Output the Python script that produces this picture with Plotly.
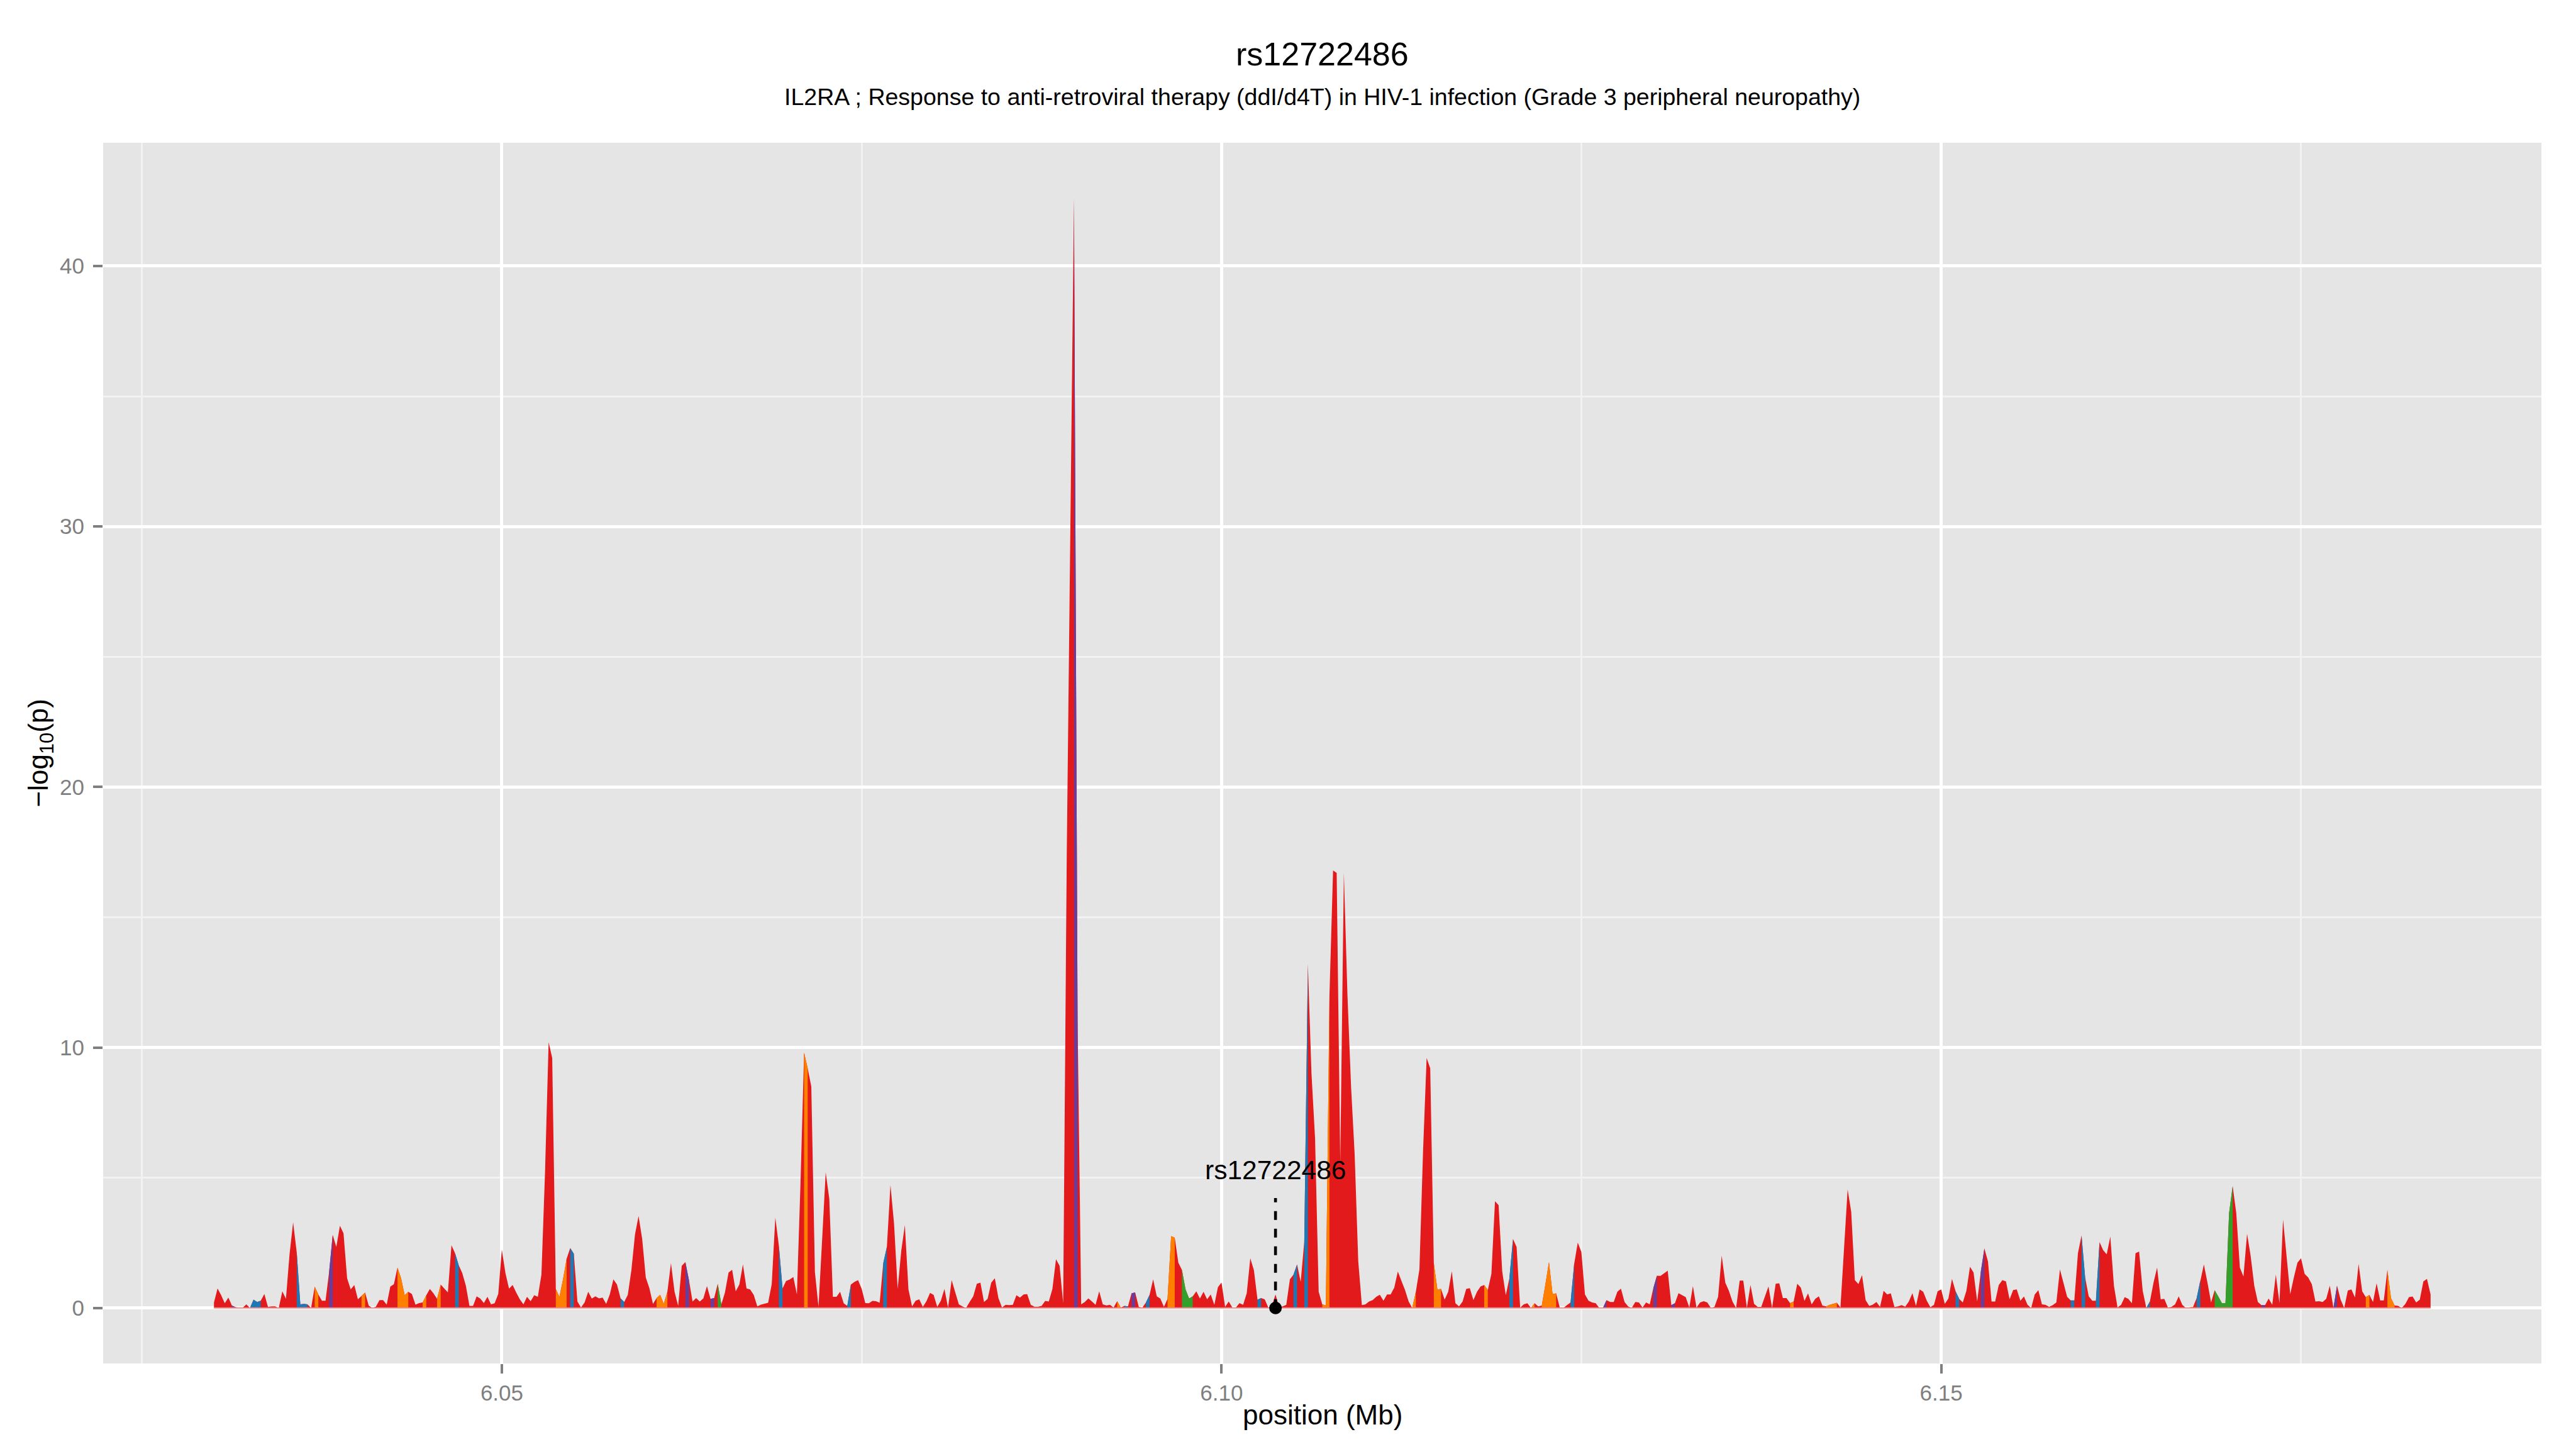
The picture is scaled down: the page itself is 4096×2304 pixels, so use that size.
import plotly.graph_objects as go

# ---------------- data ----------------
position_kb = [
    6030.00, 6030.25, 6030.50, 6030.75, 6031.00, 6031.25, 6031.50, 6031.75, 6032.00, 6032.25,
    6032.50, 6032.75, 6033.00, 6033.25, 6033.50, 6033.75, 6034.00, 6034.25, 6034.50, 6034.75,
    6035.00, 6035.25, 6035.50, 6035.75, 6036.00, 6036.25, 6036.50, 6036.75, 6037.00, 6037.25,
    6037.50, 6037.75, 6038.00, 6038.25, 6038.50, 6038.75, 6039.00, 6039.25, 6039.50, 6039.75,
    6040.00, 6040.25, 6040.50, 6040.75, 6041.00, 6041.25, 6041.50, 6041.75, 6042.00, 6042.25,
    6042.50, 6042.75, 6043.00, 6043.25, 6043.50, 6043.75, 6044.00, 6044.25, 6044.50, 6044.75,
    6045.00, 6045.25, 6045.50, 6045.75, 6046.00, 6046.25, 6046.50, 6046.75, 6047.00, 6047.25,
    6047.50, 6047.75, 6048.00, 6048.25, 6048.50, 6048.75, 6049.00, 6049.25, 6049.50, 6049.75,
    6050.00, 6050.25, 6050.50, 6050.75, 6051.00, 6051.25, 6051.50, 6051.75, 6052.00, 6052.25,
    6052.50, 6052.75, 6053.00, 6053.25, 6053.50, 6053.75, 6054.00, 6054.25, 6054.50, 6054.75,
    6055.00, 6055.25, 6055.50, 6055.75, 6056.00, 6056.25, 6056.50, 6056.75, 6057.00, 6057.25,
    6057.50, 6057.75, 6058.00, 6058.25, 6058.50, 6058.75, 6059.00, 6059.25, 6059.50, 6059.75,
    6060.00, 6060.25, 6060.50, 6060.75, 6061.00, 6061.25, 6061.50, 6061.75, 6062.00, 6062.25,
    6062.50, 6062.75, 6063.00, 6063.25, 6063.50, 6063.75, 6064.00, 6064.25, 6064.50, 6064.75,
    6065.00, 6065.25, 6065.50, 6065.75, 6066.00, 6066.25, 6066.50, 6066.75, 6067.00, 6067.25,
    6067.50, 6067.75, 6068.00, 6068.25, 6068.50, 6068.75, 6069.00, 6069.25, 6069.50, 6069.75,
    6070.00, 6070.25, 6070.50, 6070.75, 6071.00, 6071.25, 6071.50, 6071.75, 6072.00, 6072.25,
    6072.50, 6072.75, 6073.00, 6073.25, 6073.50, 6073.75, 6074.00, 6074.25, 6074.50, 6074.75,
    6075.00, 6075.25, 6075.50, 6075.75, 6076.00, 6076.25, 6076.50, 6076.75, 6077.00, 6077.25,
    6077.50, 6077.75, 6078.00, 6078.25, 6078.50, 6078.75, 6079.00, 6079.25, 6079.50, 6079.75,
    6080.00, 6080.25, 6080.50, 6080.75, 6081.00, 6081.25, 6081.50, 6081.75, 6082.00, 6082.25,
    6082.50, 6082.75, 6083.00, 6083.25, 6083.50, 6083.75, 6084.00, 6084.25, 6084.50, 6084.75,
    6085.00, 6085.25, 6085.50, 6085.75, 6086.00, 6086.25, 6086.50, 6086.75, 6087.00, 6087.25,
    6087.50, 6087.75, 6088.00, 6088.25, 6088.50, 6088.75, 6089.00, 6089.25, 6089.50, 6089.75,
    6090.00, 6090.25, 6090.50, 6090.75, 6091.00, 6091.25, 6091.50, 6091.75, 6092.00, 6092.25,
    6092.50, 6092.75, 6093.00, 6093.25, 6093.50, 6093.75, 6094.00, 6094.25, 6094.50, 6094.75,
    6095.00, 6095.25, 6095.50, 6095.75, 6096.00, 6096.25, 6096.50, 6096.75, 6097.00, 6097.25,
    6097.50, 6097.75, 6098.00, 6098.25, 6098.50, 6098.75, 6099.00, 6099.25, 6099.50, 6099.75,
    6100.00, 6100.25, 6100.50, 6100.75, 6101.00, 6101.25, 6101.50, 6101.75, 6102.00, 6102.25,
    6102.50, 6102.75, 6103.00, 6103.25, 6103.50, 6103.75, 6104.00, 6104.25, 6104.50, 6104.75,
    6105.00, 6105.25, 6105.50, 6105.75, 6106.00, 6106.25, 6106.50, 6106.75, 6107.00, 6107.25,
    6107.50, 6107.75, 6108.00, 6108.25, 6108.50, 6108.75, 6109.00, 6109.25, 6109.50, 6109.75,
    6110.00, 6110.25, 6110.50, 6110.75, 6111.00, 6111.25, 6111.50, 6111.75, 6112.00, 6112.25,
    6112.50, 6112.75, 6113.00, 6113.25, 6113.50, 6113.75, 6114.00, 6114.25, 6114.50, 6114.75,
    6115.00, 6115.25, 6115.50, 6115.75, 6116.00, 6116.25, 6116.50, 6116.75, 6117.00, 6117.25,
    6117.50, 6117.75, 6118.00, 6118.25, 6118.50, 6118.75, 6119.00, 6119.25, 6119.50, 6119.75,
    6120.00, 6120.25, 6120.50, 6120.75, 6121.00, 6121.25, 6121.50, 6121.75, 6122.00, 6122.25,
    6122.50, 6122.75, 6123.00, 6123.25, 6123.50, 6123.75, 6124.00, 6124.25, 6124.50, 6124.75,
    6125.00, 6125.25, 6125.50, 6125.75, 6126.00, 6126.25, 6126.50, 6126.75, 6127.00, 6127.25,
    6127.50, 6127.75, 6128.00, 6128.25, 6128.50, 6128.75, 6129.00, 6129.25, 6129.50, 6129.75,
    6130.00, 6130.25, 6130.50, 6130.75, 6131.00, 6131.25, 6131.50, 6131.75, 6132.00, 6132.25,
    6132.50, 6132.75, 6133.00, 6133.25, 6133.50, 6133.75, 6134.00, 6134.25, 6134.50, 6134.75,
    6135.00, 6135.25, 6135.50, 6135.75, 6136.00, 6136.25, 6136.50, 6136.75, 6137.00, 6137.25,
    6137.50, 6137.75, 6138.00, 6138.25, 6138.50, 6138.75, 6139.00, 6139.25, 6139.50, 6139.75,
    6140.00, 6140.25, 6140.50, 6140.75, 6141.00, 6141.25, 6141.50, 6141.75, 6142.00, 6142.25,
    6142.50, 6142.75, 6143.00, 6143.25, 6143.50, 6143.75, 6144.00, 6144.25, 6144.50, 6144.75,
    6145.00, 6145.25, 6145.50, 6145.75, 6146.00, 6146.25, 6146.50, 6146.75, 6147.00, 6147.25,
    6147.50, 6147.75, 6148.00, 6148.25, 6148.50, 6148.75, 6149.00, 6149.25, 6149.50, 6149.75,
    6150.00, 6150.25, 6150.50, 6150.75, 6151.00, 6151.25, 6151.50, 6151.75, 6152.00, 6152.25,
    6152.50, 6152.75, 6153.00, 6153.25, 6153.50, 6153.75, 6154.00, 6154.25, 6154.50, 6154.75,
    6155.00, 6155.25, 6155.50, 6155.75, 6156.00, 6156.25, 6156.50, 6156.75, 6157.00, 6157.25,
    6157.50, 6157.75, 6158.00, 6158.25, 6158.50, 6158.75, 6159.00, 6159.25, 6159.50, 6159.75,
    6160.00, 6160.25, 6160.50, 6160.75, 6161.00, 6161.25, 6161.50, 6161.75, 6162.00, 6162.25,
    6162.50, 6162.75, 6163.00, 6163.25, 6163.50, 6163.75, 6164.00, 6164.25, 6164.50, 6164.75,
    6165.00, 6165.25, 6165.50, 6165.75, 6166.00, 6166.25, 6166.50, 6166.75, 6167.00, 6167.25,
    6167.50, 6167.75, 6168.00, 6168.25, 6168.50, 6168.75, 6169.00, 6169.25, 6169.50, 6169.75,
    6170.00, 6170.25, 6170.50, 6170.75, 6171.00, 6171.25, 6171.50, 6171.75, 6172.00, 6172.25,
    6172.50, 6172.75, 6173.00, 6173.25, 6173.50, 6173.75, 6174.00, 6174.25, 6174.50, 6174.75,
    6175.00, 6175.25, 6175.50, 6175.75, 6176.00, 6176.25, 6176.50, 6176.75, 6177.00, 6177.25,
    6177.50, 6177.75, 6178.00, 6178.25, 6178.50, 6178.75, 6179.00, 6179.25, 6179.50, 6179.75,
    6180.00, 6180.25, 6180.50, 6180.75, 6181.00, 6181.25, 6181.50, 6181.75, 6182.00, 6182.25,
    6182.50, 6182.75, 6183.00, 6183.25, 6183.50, 6183.75, 6184.00,
]

neglog10p = [
    0.21, 0.75, 0.49, 0.18, 0.40, 0.09, 0.03, 0.01, 0.01, 0.14,
    0.00, 0.32, 0.23, 0.28, 0.54, 0.04, 0.06, 0.06, 0.00, 0.64,
    0.35, 2.06, 3.29, 2.13, 0.14, 0.16, 0.14, 0.00, 0.82, 0.52,
    0.28, 0.28, 1.38, 2.81, 2.34, 3.16, 2.87, 1.14, 0.71, 0.88,
    0.33, 0.45, 0.59, 0.09, 0.00, 0.05, 0.30, 0.30, 0.13, 0.82,
    0.91, 1.55, 1.14, 0.49, 0.62, 0.54, 0.13, 0.19, 0.21, 0.49,
    0.73, 0.56, 0.35, 0.90, 0.76, 0.60, 2.41, 2.10, 1.65, 1.34,
    0.86, 0.08, 0.08, 0.45, 0.36, 0.19, 0.43, 0.14, 0.18, 0.54,
    2.24, 1.34, 0.74, 0.88, 0.59, 0.33, 0.14, 0.43, 0.26, 0.49,
    0.43, 1.28, 5.20, 10.20, 9.60, 0.73, 0.43, 1.10, 1.89, 2.30,
    2.08, 0.25, 0.02, 0.21, 0.62, 0.36, 0.45, 0.37, 0.40, 0.16,
    0.52, 1.10, 0.90, 0.37, 0.23, 0.50, 1.45, 2.82, 3.53, 2.65,
    1.17, 0.76, 0.16, 0.38, 0.51, 0.16, 0.62, 1.72, 0.62, 0.08,
    1.62, 1.76, 1.07, 0.25, 0.38, 0.25, 0.37, 0.84, 0.35, 0.38,
    0.93, 0.14, 0.59, 1.36, 1.47, 0.64, 0.90, 1.67, 0.75, 0.71,
    0.50, 0.06, 0.13, 0.16, 0.20, 0.91, 3.47, 2.37, 0.75, 1.04,
    1.09, 1.19, 0.52, 4.80, 9.80, 9.20, 8.50, 1.38, 0.04, 2.60,
    5.21, 4.19, 0.43, 0.43, 0.62, 0.18, 0.08, 0.90, 1.00, 1.07,
    0.73, 0.19, 0.18, 0.27, 0.26, 0.20, 1.72, 2.34, 4.72, 3.23,
    0.73, 2.20, 3.18, 0.71, 0.06, 0.28, 0.33, 0.04, 0.26, 0.58,
    0.50, 0.04, 0.28, 0.73, 0.01, 1.07, 0.62, 0.14, 0.06, 0.00,
    0.23, 0.45, 0.93, 0.97, 0.23, 0.35, 0.97, 1.14, 0.38, 0.02,
    0.12, 0.11, 0.12, 0.49, 0.40, 0.52, 0.53, 0.12, 0.05, 0.05,
    0.08, 0.27, 0.25, 0.73, 1.87, 1.62, 0.18, 17.50, 30.00, 42.60,
    11.00, 0.14, 0.23, 0.37, 0.25, 0.12, 0.64, 0.14, 0.10, 0.12,
    0.02, 0.26, 0.02, 0.08, 0.06, 0.56, 0.60, 0.04, 0.01, 0.21,
    0.50, 1.10, 0.45, 0.36, 0.04, 0.35, 2.76, 2.70, 1.74, 1.46,
    0.71, 0.36, 0.45, 0.64, 0.36, 0.62, 0.33, 0.52, 0.12, 0.80,
    0.98, 0.04, 0.25, 0.02, 0.02, 0.19, 0.12, 0.56, 1.91, 1.45,
    0.32, 0.38, 0.33, 0.02, 0.08, 0.52, 0.04, 0.06, 0.12, 1.10,
    1.28, 1.67, 1.00, 2.55, 13.20, 9.00, 6.50, 0.62, 0.14, 0.10,
    12.00, 16.80, 16.70, 5.60, 16.70, 12.00, 8.50, 5.90, 1.79, 0.11,
    0.14, 0.25, 0.30, 0.43, 0.51, 0.28, 0.52, 0.52, 0.78, 1.40,
    1.04, 0.69, 0.25, 0.00, 0.62, 1.48, 6.00, 9.60, 9.20, 1.72,
    0.71, 0.73, 0.32, 0.62, 1.41, 0.18, 0.06, 0.25, 0.73, 0.76,
    0.30, 0.62, 0.83, 0.88, 0.69, 1.31, 4.10, 3.95, 1.41, 0.49,
    1.14, 2.65, 2.34, 0.01, 0.14, 0.18, 0.00, 0.18, 0.06, 0.09,
    0.90, 1.76, 0.54, 0.56, 0.01, 0.00, 0.11, 0.21, 1.69, 2.51,
    2.15, 0.52, 0.28, 0.21, 0.18, 0.00, 0.00, 0.30, 0.23, 0.23,
    0.62, 0.74, 0.23, 0.06, 0.00, 0.23, 0.21, 0.02, 0.21, 0.14,
    0.76, 1.24, 1.23, 1.34, 1.43, 0.11, 0.18, 0.57, 0.49, 0.42,
    0.02, 0.84, 0.01, 0.21, 0.26, 0.21, 0.00, 0.04, 0.43, 2.01,
    0.97, 0.66, 0.25, 0.00, 1.05, 1.05, 0.00, 0.88, 0.16, 0.04,
    0.04, 0.43, 0.83, 0.00, 0.93, 0.95, 0.38, 0.38, 0.19, 0.25,
    0.93, 0.78, 0.27, 0.56, 0.14, 0.35, 0.45, 0.09, 0.06, 0.12,
    0.16, 0.20, 0.02, 2.20, 4.55, 3.68, 1.07, 0.92, 1.26, 0.30,
    0.08, 0.13, 0.23, 0.04, 0.66, 0.52, 0.56, 0.04, 0.06, 0.11,
    0.05, 0.25, 0.57, 0.08, 0.71, 0.62, 0.28, 0.03, 0.12, 0.64,
    0.71, 0.16, 0.36, 1.12, 0.64, 0.35, 0.21, 0.66, 1.58, 1.36,
    0.25, 1.38, 2.29, 1.79, 0.25, 0.25, 0.88, 1.07, 1.02, 0.33,
    0.69, 0.71, 0.28, 0.44, 0.12, 0.00, 0.52, 0.68, 0.14, 0.12,
    0.04, 0.11, 0.21, 1.48, 0.93, 0.43, 0.29, 0.29, 2.10, 2.78,
    1.17, 0.45, 0.28, 0.28, 2.53, 2.22, 2.06, 2.74, 0.86, 0.02,
    0.12, 0.42, 0.35, 0.18, 2.10, 2.17, 0.66, 0.00, 0.25, 0.97,
    1.55, 0.33, 0.35, 0.02, 0.04, 0.14, 0.45, 0.12, 0.00, 0.02,
    0.04, 0.38, 1.07, 1.67, 0.97, 0.21, 0.68, 0.45, 0.19, 0.18,
    3.64, 4.68, 3.64, 1.55, 1.21, 2.85, 2.00, 0.86, 0.23, 0.11,
    0.11, 0.36, 0.12, 1.28, 0.19, 3.40, 1.93, 0.53, 1.17, 1.74,
    1.91, 1.31, 1.17, 0.91, 0.25, 0.26, 0.23, 0.35, 0.86, 0.00,
    0.86, 0.32, 0.00, 0.67, 0.71, 0.40, 1.69, 0.64, 0.42, 0.50,
    0.23, 0.95, 0.29, 0.29, 1.46, 0.38, 0.10, 0.08, 0.00, 0.16,
    0.42, 0.44, 0.21, 0.32, 1.02, 1.12, 0.52,
]

# SNP indices whose interval (to the next SNP) is drawn in a non-default class colour
class_blue = [10, 11, 12, 23, 24, 25, 67, 99, 113, 157, 176, 186, 253, 259, 290,
              300, 303, 360, 377, 484, 516, 519, 523, 537, 551]
class_purple = [5, 32, 131, 138, 239, 255, 386, 400, 405, 491, 569, 589]
class_orange = [28, 41, 51, 52, 53, 58, 62, 95, 96, 97, 123, 124, 125, 164, 251,
                265, 266, 308, 309, 333, 339, 340, 353, 366, 369, 370, 371, 372,
                438, 448, 449, 450, 549, 598, 604, 605]
class_green = [140, 269, 270, 271, 556, 557, 558, 559, 560]

lead_snp = "rs12722486"
lead_snp_kb = 6103.75
lead_label_y = 5.3
lead_line_top = 4.22

title_text = "rs12722486"
subtitle_text = ("IL2RA ; Response to anti-retroviral therapy (ddI/d4T) in HIV-1 "
                 "infection (Grade 3 peripheral neuropathy)")
x_ticks = [6.05, 6.10, 6.15]
x_ticklabels = ["6.05", "6.10", "6.15"]
x_minor = [6.025, 6.075, 6.125, 6.175]
y_ticks = [0, 10, 20, 30, 40]
y_minor = [5, 15, 25, 35]

# ---------------- styling ----------------
RED = "#E31A1C"
class_colors = {"blue": "#1F78B4", "purple": "#6A3D9A", "orange": "#FF7F00", "green": "#33A02C"}
class_members = {"blue": class_blue, "purple": class_purple, "orange": class_orange, "green": class_green}
FONT = "Liberation Sans, Arial, Helvetica, sans-serif"
GREY50 = "#7F7F7F"

x_mb = [p / 1000.0 for p in position_kb]

fig = go.Figure()
fig.add_trace(go.Scatter(x=x_mb, y=neglog10p, mode="lines", line=dict(width=0, color=RED),
                         fill="tozeroy", fillcolor=RED, hoverinfo="skip", showlegend=False))

for name, idxs in class_members.items():
    xs, ys = [], []
    for i in idxs:
        xs += [x_mb[i], x_mb[i], x_mb[i + 1], x_mb[i + 1], None]
        ys += [0, neglog10p[i], neglog10p[i + 1], 0, None]
    fig.add_trace(go.Scatter(x=xs, y=ys, mode="lines", line=dict(width=0, color=class_colors[name]),
                             fill="toself", fillcolor=class_colors[name], hoverinfo="skip",
                             showlegend=False))

# faint outline along the baseline under the data
fig.add_trace(go.Scatter(x=[x_mb[0], x_mb[-1]], y=[0, 0], mode="lines",
                         line=dict(width=2, color="rgba(240,140,140,1)"), hoverinfo="skip",
                         showlegend=False))

lead_x = lead_snp_kb / 1000.0
fig.add_trace(go.Scatter(x=[lead_x, lead_x], y=[0, lead_line_top], mode="lines",
                         line=dict(width=4.6, color="black", dash="14px,14px"),
                         hoverinfo="skip", showlegend=False))
fig.add_trace(go.Scatter(x=[lead_x], y=[0], mode="markers",
                         marker=dict(size=20, color="black"), hoverinfo="skip", showlegend=False))

# page body adds an 8px offset; compensate so the panel lands where the reference has it
OFF = 8
W, H = 4096, 2304
PL, PR, PT, PB = 164, 4041, 227, 2168          # panel edges on screen
L, T = PL - OFF, PT - OFF
R = W - (PR - OFF)
B = H - (PB - OFF)
pw = PR - PL
ph = PB - PT

def py(ypx):
    return (PB - ypx) / ph

def px(xpx):
    return (xpx - PL) / pw

annotations = [
    dict(text=title_text, x=0.5, y=py(86), xref="paper", yref="paper", showarrow=False,
         font=dict(size=52, color="black", family=FONT), xanchor="center", yanchor="middle"),
    dict(text=subtitle_text, x=0.5, y=py(154), xref="paper", yref="paper", showarrow=False,
         font=dict(size=37.5, color="black", family=FONT), xanchor="center", yanchor="middle"),
    dict(text="position (Mb)", x=0.5, y=py(2249), xref="paper", yref="paper", showarrow=False,
         font=dict(size=44, color="black", family=FONT), xanchor="center", yanchor="middle"),
    dict(text="\u2212log<sub>10</sub>(p)", x=px(63), y=0.5, xref="paper", yref="paper",
         showarrow=False, textangle=-90,
         font=dict(size=44, color="black", family=FONT), xanchor="center", yanchor="middle"),
    dict(text=lead_snp, x=lead_x, y=lead_label_y, xref="x", yref="y", showarrow=False,
         font=dict(size=42.5, color="black", family=FONT), xanchor="center", yanchor="middle"),
]

axis_common = dict(
    showgrid=True, gridcolor="white", gridwidth=5, zeroline=False, showline=False,
    ticks="outside", ticklen=15, tickwidth=4, tickcolor=GREY50,
    tickfont=dict(size=35, color=GREY50, family=FONT),
)

fig.update_layout(
    width=W, height=H,
    margin=dict(l=L, r=R, t=T, b=B, pad=0),
    paper_bgcolor="white", plot_bgcolor="#E5E5E5",
    showlegend=False,
    font=dict(family=FONT),
    annotations=annotations,
    xaxis=dict(range=[6.0223, 6.1917], tickmode="array", tickvals=x_ticks, ticktext=x_ticklabels,
               ticklabelstandoff=1,
               minor=dict(tickmode="array", tickvals=x_minor, showgrid=True, gridcolor="#F2F2F2",
                          gridwidth=2.7, ticks=""),
               **axis_common),
    yaxis=dict(range=[-2.13, 44.73], tickmode="array", tickvals=y_ticks,
               ticktext=[str(v) for v in y_ticks], ticklabelstandoff=7,
               minor=dict(tickmode="array", tickvals=y_minor, showgrid=True, gridcolor="#F2F2F2",
                          gridwidth=2.7, ticks=""),
               **axis_common),
)

fig.write_html("out.html")
